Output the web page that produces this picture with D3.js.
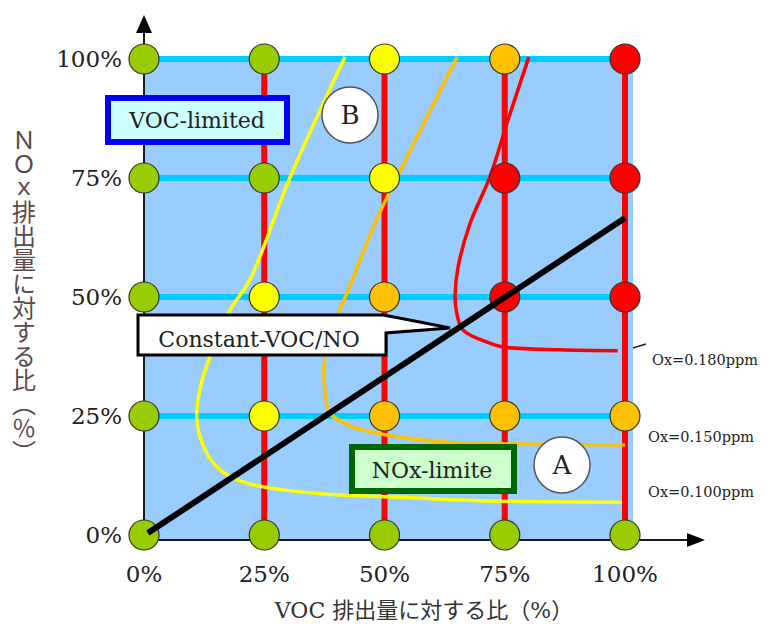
<!DOCTYPE html>
<html>
<head>
<meta charset="utf-8">
<script src="https://cdn.jsdelivr.net/npm/d3@7"></script>
<style>
  html, body { margin: 0; padding: 0; background: #fff; }
  svg { display: block; }
</style>
</head>
<body>
<svg id="chart" width="768" height="624"></svg>
<script>
// ---------- data ----------
const vocTicks = [0, 25, 50, 75, 100];
const noxTicks = [0, 25, 50, 75, 100];
const tickLabels = ["0%", "25%", "50%", "75%", "100%"];
const xTitle = "VOC 排出量に対する比（%）";
const yTitle = "ＮＯｘ排出量に対する比（％）";

// level of each grid node, rows by NOx (0% .. 100%), columns by VOC (0% .. 100%)
const nodeLevels = [
  ["g", "g", "g", "g", "g"],   // NOx 0%
  ["g", "y", "o", "o", "o"],   // NOx 25%
  ["g", "y", "o", "r", "r"],   // NOx 50%
  ["g", "g", "y", "r", "r"],   // NOx 75%
  ["g", "g", "y", "o", "r"]    // NOx 100%
];
const levelColors = { g: "#99CC00", y: "#FFFF00", o: "#FFC000", r: "#FF0000" };

// isopleths [VOC %, NOx %]
const ox100 = [[41.8,100.4],[30.4,75.2],[22.0,53.6],[17.9,47.3],[13.7,37.4],[11.6,30.5],[11.0,24.2],
  [12.7,17.9],[15.8,13.7],[21.4,10.9],[35.1,8.8],[55.9,7.8],[74.0,7.1],[99.4,6.9]];
const ox150 = [[65.1,100.4],[52.6,75.2],[48.0,65.5],[42.2,50.8],[40.7,47.3],[37.6,37.4],[37.6,30.5],
  [38.7,25.6],[43.5,22.7],[50.5,21.0],[63.0,19.5],[78.2,19.1],[100,18.9]];
const ox180 = [[80.0,100.4],[75.5,86.6],[71.9,75.2],[67.8,65.5],[65.3,56.3],[64.7,50.8],[64.9,47.3],
  [66.3,43.1],[71.9,40.3],[74.6,39.5],[86.5,38.9],[98.5,38.7]];
const isoLabels = ["Ox=0.100ppm", "Ox=0.150ppm", "Ox=0.180ppm"];
const constantRatio = [[0.8, 0.4], [100, 66.6]];

// ---------- drawing ----------
const svg = d3.select("#chart");
const x = d3.scaleLinear().domain([0, 100]).range([144, 625]);
const y = d3.scaleLinear().domain([0, 100]).range([535, 59]);
const serif = "'DejaVu Serif', 'Noto Sans CJK JP', serif";
const cjk = "'DejaVu Serif', 'Noto Sans CJK JP', sans-serif";

// background
svg.append("rect")
  .attr("x", x(0)).attr("y", y(100) + 3)
  .attr("width", x(100) + 8 - x(0)).attr("height", 540 - (y(100) + 3))
  .attr("fill", "#99CCFF");

// cyan horizontal lines
svg.append("g").selectAll("line").data(noxTicks.filter(d => d > 0)).join("line")
  .attr("x1", x(0)).attr("x2", x(100))
  .attr("y1", d => y(d)).attr("y2", d => y(d))
  .attr("stroke", "#00CCFF").attr("stroke-width", 6);

// red vertical lines
svg.append("g").selectAll("line").data(vocTicks.filter(d => d > 0)).join("line")
  .attr("x1", d => x(d)).attr("x2", d => x(d))
  .attr("y1", y(100)).attr("y2", y(0))
  .attr("stroke", "#FF0000").attr("stroke-width", 6);

// isopleths
const line = d3.line().x(d => x(d[0])).y(d => y(d[1])).curve(d3.curveCatmullRom.alpha(0.5));
[[ox100, "#FFFF00"], [ox150, "#FFC000"], [ox180, "#FF0000"]].forEach(([pts, c]) => {
  svg.append("path").attr("d", line(pts)).attr("fill", "none")
    .attr("stroke", c).attr("stroke-width", 3.5);
});

// axes
const axisColor = "#1a1a1a";
svg.append("line").attr("x1", x(0)).attr("x2", x(0)).attr("y1", 540).attr("y2", 30)
  .attr("stroke", axisColor).attr("stroke-width", 2);
svg.append("path").attr("d", `M${x(0)},15 L${x(0) - 8},33 L${x(0) + 8},33 Z`).attr("fill", "#000");
svg.append("line").attr("x1", x(0)).attr("x2", 690).attr("y1", 540).attr("y2", 540)
  .attr("stroke", axisColor).attr("stroke-width", 2);
svg.append("path").attr("d", `M705,540 L687,533 L687,547 Z`).attr("fill", "#000");

// nodes
const nodes = [];
nodeLevels.forEach((row, i) => row.forEach((lv, j) => nodes.push({ v: vocTicks[j], n: noxTicks[i], lv })));
svg.append("g").selectAll("circle").data(nodes).join("circle")
  .attr("cx", d => x(d.v)).attr("cy", d => y(d.n)).attr("r", 15)
  .attr("fill", d => levelColors[d.lv]).attr("stroke", "#333").attr("stroke-width", 1.2);

// constant VOC/NOx line
svg.append("path").attr("d", d3.line().x(d => x(d[0])).y(d => y(d[1]))(constantRatio))
  .attr("stroke", "#000").attr("stroke-width", 6).attr("fill", "none");

// tick labels
svg.append("g").selectAll("text").data(noxTicks).join("text")
  .attr("x", 122).attr("y", d => y(d)).attr("dy", "0.36em")
  .attr("text-anchor", "end").attr("font-family", serif).attr("font-size", 23)
  .attr("fill", "#222").text((d, i) => tickLabels[i]);
svg.append("g").selectAll("text").data(vocTicks).join("text")
  .attr("x", d => x(d)).attr("y", 582)
  .attr("text-anchor", "middle").attr("font-family", serif).attr("font-size", 23)
  .attr("fill", "#222").text((d, i) => tickLabels[i]);

// axis titles
svg.append("text").attr("x", 424).attr("y", 618).attr("text-anchor", "middle")
  .attr("font-family", cjk).attr("font-size", 22).attr("fill", "#333").text(xTitle);
svg.append("text").attr("x", 24).attr("y", 128)
  .attr("writing-mode", "vertical-rl").attr("text-anchor", "start")
  .attr("font-family", "'Noto Sans CJK JP', sans-serif").attr("font-size", 24)
  .attr("fill", "#5a4a4a").text(yTitle);

// VOC-limited box
svg.append("rect").attr("x", 108).attr("y", 98).attr("width", 179).attr("height", 44)
  .attr("fill", "#CCFFFF").attr("stroke", "#0000FF").attr("stroke-width", 6);
svg.append("text").attr("x", 197).attr("y", 120).attr("dy", "0.36em").attr("text-anchor", "middle")
  .attr("font-family", serif).attr("font-size", 22).attr("fill", "#222").text("VOC-limited");

// NOx-limite box
svg.append("rect").attr("x", 352).attr("y", 447).attr("width", 162).attr("height", 44)
  .attr("fill", "#CCFFCC").attr("stroke", "#006600").attr("stroke-width", 6);
svg.append("text").attr("x", 432).attr("y", 470).attr("dy", "0.36em").attr("text-anchor", "middle")
  .attr("font-family", serif).attr("font-size", 22).attr("fill", "#222").text("NOx-limite");

// Constant-VOC/NO callout
svg.append("path")
  .attr("d", "M138,315 H383 Q410,320 450,328 L386,333 V355 H138 Z")
  .attr("fill", "#fff").attr("stroke", "#000").attr("stroke-width", 3).attr("stroke-linejoin", "miter");
svg.append("text").attr("x", 259).attr("y", 339).attr("dy", "0.36em").attr("text-anchor", "middle")
  .attr("font-family", serif).attr("font-size", 22).attr("fill", "#222").text("Constant-VOC/NO");

// A / B circles
[["B", 350, 115], ["A", 562, 465]].forEach(([t, cx, cy]) => {
  svg.append("circle").attr("cx", cx).attr("cy", cy).attr("r", 28)
    .attr("fill", "#fff").attr("stroke", "#555").attr("stroke-width", 1.5);
  svg.append("text").attr("x", cx).attr("y", cy).attr("dy", "0.36em").attr("text-anchor", "middle")
    .attr("font-family", serif).attr("font-size", 26).attr("fill", "#222").text(t);
});

// isopleth labels
const labelPos = [[648, 497], [648, 442], [652, 365]];
isoLabels.forEach((t, i) => {
  svg.append("text").attr("x", labelPos[i][0]).attr("y", labelPos[i][1])
    .attr("font-family", serif).attr("font-size", 14.5).attr("fill", "#222").text(t);
});
svg.append("line").attr("x1", 633).attr("y1", 348).attr("x2", 646).attr("y2", 344)
  .attr("stroke", "#222").attr("stroke-width", 1.5);
</script>
</body>
</html>
